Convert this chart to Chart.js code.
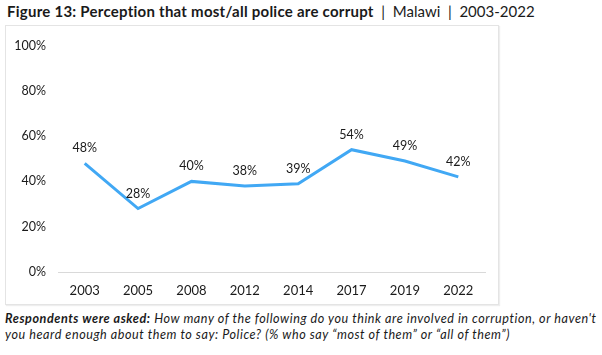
<!DOCTYPE html>
<html><head><meta charset="utf-8">
<script src="https://cdn.jsdelivr.net/npm/chart.js@4/dist/chart.umd.min.js"></script>
<style>
html,body{margin:0;padding:0;background:#fff;width:602px;height:355px;overflow:hidden;font-family:"Lato","DejaVu Sans",sans-serif;color:#1a1a1a}
#title{position:absolute;left:7px;top:2px;font-size:15px;white-space:nowrap}
#title b{font-weight:700;letter-spacing:0.25px}
#box{position:absolute;left:5px;top:25px;width:492px;height:278px;border:1px solid #e4e4e4;box-shadow:1px 1px 1px #eee}
#c{display:block}
#note{position:absolute;left:5px;top:311px;width:600px;font-size:12.6px;line-height:16px;font-style:italic;color:#1a1a1a;white-space:nowrap;letter-spacing:0.55px}
</style></head><body>
<div id="title"><b>Figure 13: Perception that most/all police are corrupt</b> &nbsp;|&nbsp; Malawi &nbsp;|&nbsp; 2003-2022</div>
<div id="box"><canvas id="c" width="492" height="278"></canvas></div>
<div id="note"><b>Respondents were asked:</b> How many of the following do you think are involved in corruption, or haven't<br>you heard enough about them to say: Police? (% who say “most of them” or “all of them”)</div>
<script>
const years = ["2003","2005","2008","2012","2014","2017","2019","2022"];
const police = [48, 28, 40, 38, 39, 54, 49, 42];
const yTicks = [0, 20, 40, 60, 80, 100];

const labelPlugin = {
  id: 'pointLabels',
  afterDatasetsDraw(chart) {
    const ctx = chart.ctx;
    const meta = chart.getDatasetMeta(0);
    ctx.save();
    ctx.font = '12.5px Lato, "DejaVu Sans", sans-serif';
    ctx.fillStyle = '#1a1a1a';
    ctx.textAlign = 'center';
    ctx.textBaseline = 'middle';
    meta.data.forEach((pt, i) => {
      ctx.fillText(police[i] + '%', pt.x, pt.y - 15);
    });
    ctx.restore();
  }
};

new Chart(document.getElementById('c'), {
  type: 'line',
  data: {
    labels: years,
    datasets: [{
      data: police,
      borderColor: '#41a8f4',
      borderWidth: 3,
      pointRadius: 0,
      tension: 0,
      fill: false
    }]
  },
  options: {
    responsive: false,
    animation: false,
    layout: { padding: { left: 0, right: 13, top: 14, bottom: 0 } },
    plugins: { legend: { display: false }, tooltip: { enabled: false } },
    scales: {
      y: {
        min: 0, max: 100,
        afterFit(s) { s.width = 52; },
        afterBuildTicks(s) { s.ticks = yTicks.map(v => ({ value: v })); },
        grid: { display: false, drawTicks: false },
        border: { display: false },
        ticks: {
          padding: 12,
          color: '#1a1a1a',
          font: { family: 'Lato, "DejaVu Sans", sans-serif', size: 12.5 },
          callback: v => v + '%'
        }
      },
      x: {
        offset: true,
        afterFit(s) { s.height = 32; },
        grid: { display: false, drawTicks: false, offset: true },
        border: { display: true, color: '#d9d9d9', width: 1 },
        ticks: {
          padding: 11,
          color: '#1a1a1a',
          maxRotation: 0,
          font: { family: 'Lato, "DejaVu Sans", sans-serif', size: 13 }
        }
      }
    }
  },
  plugins: [labelPlugin]
});
</script>
</body></html>
